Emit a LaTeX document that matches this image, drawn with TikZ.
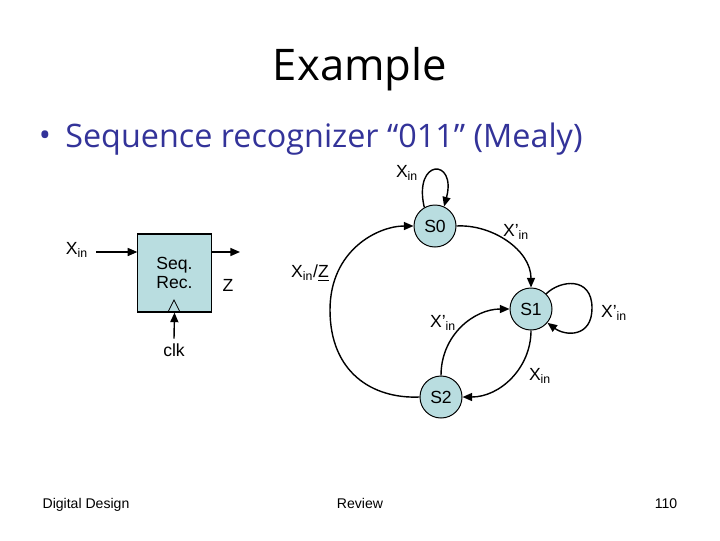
\documentclass[tikz,border=0pt]{standalone}
\usepackage{fontspec}
\setmainfont{Liberation Sans}
\newfontfamily\titlefont{Open Sans}
\usetikzlibrary{arrows.meta}
\definecolor{stfill}{RGB}{185,221,224}
\definecolor{bulblue}{RGB}{51,51,153}

\begin{document}
\begin{tikzpicture}[x=0.025cm, y=-0.025cm, font=\fontsize{12.5}{14}\selectfont,
  >={Triangle[length=2.4mm,width=2mm]},
  st/.style={circle, draw, fill=stfill, line width=0.7pt, minimum size=1.05cm, inner sep=0pt},
  bx/.style={draw, fill=stfill, line width=0.8pt, minimum width=1.83cm,
             minimum height=1.95cm, align=center},
  lbl/.style={inner sep=1pt},
  e/.style={->, line width=1pt},
  foot/.style={font=\fontsize{10}{12}\selectfont, anchor=base}]
\useasboundingbox (0,0) rectangle (720,540);
% heading
\node (title) at (360,69) {\titlefont\fontsize{31}{36}\selectfont Example};
\node[text=bulblue] (bul) at (45,139) {\titlefont\fontsize{23}{26}\selectfont\textbullet};
\node[anchor=west, text=bulblue, inner sep=0pt] (sub) at (65,139)
  {\titlefont\fontsize{23}{26}\selectfont Sequence recognizer “011” (Mealy)};
% block
\node[bx] (rec) at (174.5,273) {Seq.\\Rec.};
\node (xin) at (77,250) {X\textsubscript{in}};
\coordinate (inpt) at (96,252);
\coordinate (outpt) at (240,252);
\draw[e] (inpt) -- (inpt -| rec.west);
\draw[e] (outpt -| rec.east) -- (outpt);
\node (z) at (228,285) {Z};
\draw[line width=0.5pt] (168,312) -- (174,300) -- (180,312);
\node (clk) at (174,350) {clk};
\draw[e] (clk.north) -- (rec.south);
\node (xz) at (310,273) {X\textsubscript{in}/\underline{Z}};
% states
\node[st] (s0) at (435,226) {S0};
\node[st] (s1) at (531,309) {S1};
\node[st] (s2) at (441,397) {S2};
% transitions
\draw[e] (s0.120) .. controls (413,158) and (457,158) .. (s0.65);
\draw[e] (s0.east) .. controls (492,224) and (531,250) .. (s1.north);
\draw[e] (s1.45) .. controls (560,280) and (592,276) .. (592,308)
               .. controls (592,338) and (565,336) .. (s1.-40);
\draw[e] (s1.south) .. controls (531,368) and (500,397) .. (s2.east);
\draw[e] (s2.north) .. controls (441,335) and (474,309) .. (s1.west);
\draw[e] (s2.west) .. controls (372,399) and (330,372) .. (330,310)
               .. controls (330,250) and (378,226) .. (s0.west);
% labels
\node[lbl] (l0) at (407,173) {X\textsubscript{in}};
\node[lbl] (l1) at (516,232) {X’\textsubscript{in}};
\node[lbl] (l2) at (614,313) {X’\textsubscript{in}};
\node[lbl] (l3) at (443,323) {X’\textsubscript{in}};
\node[lbl] (l4) at (540,376) {X\textsubscript{in}};
% footer
\node[foot] (f1) at (86,508) {Digital Design};
\node[foot] (f2) at (360,508) {Review};
\node[foot] (f3) at (666,508) {110};
\end{tikzpicture}
\end{document}
